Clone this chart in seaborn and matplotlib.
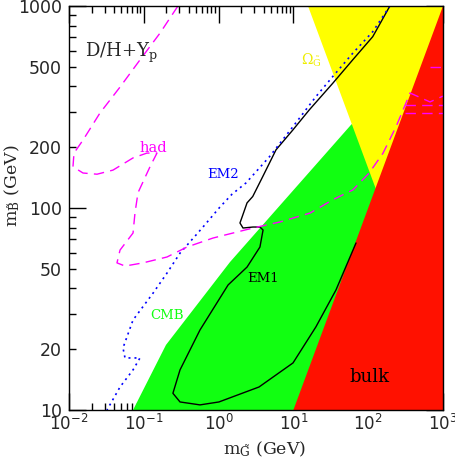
import numpy as np
import pandas as pd
import matplotlib
matplotlib.use("Agg")
import matplotlib.pyplot as plt
import seaborn as sns
from matplotlib.ticker import FixedLocator, FixedFormatter, NullFormatter

# ---------------- data ----------------
# EM1 contour (solid black)
em1_x = [195, 115, 62, 33.5, 16.3, 9.8, 5.85, 3.89, 2.86, 2.40, 2.06, 1.93, 2.12, 2.88,
         3.57, 3.93, 3.57, 2.40, 1.34, 0.564, 0.305, 0.245, 0.305, 0.564, 1.01, 3.47,
         9.88, 20.0, 37.1, 68.7]
em1_y = [1000, 705, 541, 414, 306, 243, 194, 143, 114, 106, 90.2, 84.3, 79.6, 80.5,
         80.5, 77.8, 64.1, 51.0, 41.6, 24.9, 15.8, 12.1, 10.96, 10.6, 10.96, 13.0,
         17.1, 25.8, 39.3, 67.1]

# EM2 contour (dotted blue)
em2_x = [195, 115, 62, 33.5, 20.0, 9.8, 4.76, 2.32, 1.51, 1.04, 0.618, 0.499, 0.305,
         0.204, 0.133, 0.0718, 0.0527, 0.0561, 0.0889, 0.0718, 0.0481, 0.0322]
em2_y = [1000, 746, 583, 447, 356, 252, 179, 133, 117, 101, 80.5, 73.5, 59.8,
         47.6, 37.9, 27.9, 20.3, 18.1, 18.1, 15.8, 13.0, 10.0]

# hadronic D/H + Yp contour (dashed magenta)
had_x = [0.286, 0.165, 0.0889, 0.0481, 0.0259, 0.0154, 0.01166, 0.0113, 0.0154, 0.0237,
         0.0387, 0.0718, 0.110, 0.150, 0.121, 0.0836, 0.0762, 0.0718, 0.0481, 0.0438,
         0.0561, 0.0975, 0.204, 0.378, 0.841, 1.56, 2.88, 6.62, 16.7, 33.8, 62.7, 103,
         158, 235, 320, 362, 449, 670, 1000]
had_y = [1000, 735, 541, 397, 295, 217, 187, 160, 149, 147, 154, 177, 187, 187, 160,
         119, 94.4, 75.2, 61.9, 53.5, 51.6, 53.5, 57.2, 64.1, 71.0, 75.2, 79.6, 85.3,
         94.4, 110, 123, 149, 187, 252, 331, 371, 358, 335, 358]
# noisy horizontal pieces of the same contour near the right edge
had_seg_x0 = [310, 310, 670]
had_seg_x1 = [1000, 1000, 1000]
had_seg_y = [295, 324, 499]

# CMB excluded region (green) boundary
cmb_x = [0.0718, 0.198, 1.42, 60, 1000, 1000]
cmb_y = [10, 21.0, 54, 260, 260, 10]

# Omega_G overclosure boundary (yellow)
omega_x = [15.7, 1000, 1000]
omega_y = [1000, 1000, 15.7]

# bulk region (red) boundary
bulk_x = [10, 1000, 1000]
bulk_y = [10, 1000, 10]

# tick labels
xticks = [1e-2, 1e-1, 1e0, 1e1, 1e2, 1e3]
xticklabels = [r'$\mathsf{10^{-2}}$', r'$\mathsf{10^{-1}}$', r'$\mathsf{10^{0}}$',
               r'$\mathsf{10^{1}}$', r'$\mathsf{10^{2}}$', r'$\mathsf{10^{3}}$']
yticks = [10, 20, 50, 100, 200, 500, 1000]
yticklabels = ['10', '20', '50', '100', '200', '500', '1000']

# ---------------- style ----------------
sns.set_style("ticks")
plt.rcParams['font.family'] = ['DejaVu Sans']
plt.rcParams['mathtext.fontset'] = 'custom'
plt.rcParams['mathtext.rm'] = 'DejaVu Serif'
plt.rcParams['mathtext.it'] = 'DejaVu Serif:italic'
plt.rcParams['mathtext.sf'] = 'DejaVu Sans'

GREEN = '#11ff11'
YELLOW = '#ffff00'
RED = '#ff1100'
MAGENTA = '#ff00ff'
BLUE = '#0000ff'

fig = plt.figure(figsize=(4.56, 4.61), dpi=100)
ax = fig.add_axes([69 / 456, 51 / 461, 374 / 456, 404 / 461])
ax.set_xscale('log')
ax.set_yscale('log')
ax.set_xlim(1e-2, 1e3)
ax.set_ylim(10, 1000)
ax.set_facecolor('white')

# regions
ax.fill(cmb_x, cmb_y, color=GREEN, lw=0, zorder=1)
ax.fill(omega_x, omega_y, color=YELLOW, lw=0, zorder=2)
ax.fill(bulk_x, bulk_y, color=RED, lw=0, zorder=3)


def curve(xs, ys, color, lw, ls):
    sns.lineplot(x=xs, y=ys, sort=False, estimator=None, ax=ax, color=color,
                 lw=lw, zorder=5)
    line = ax.lines[-1]
    line.set_linestyle(ls)
    line.set_linewidth(lw)


curve(em1_x, em1_y, 'black', 1.0, '-')
curve(em2_x, em2_y, BLUE, 1.2, (0, (1.2, 2.4)))
curve(had_x, had_y, MAGENTA, 1.0, (0, (7.5, 4.5)))
for x0, x1, yv in zip(had_seg_x0, had_seg_x1, had_seg_y):
    curve([x0, x1], [yv, yv], MAGENTA, 1.0, (0, (7.5, 4.5)))

# annotations
serif = 'DejaVu Serif'
ax.text(0.0164, 585, r'D/H+Y$_{\mathrm{p}}$', fontsize=13, family=serif,
        ha='left', va='center', zorder=6)
ax.text(0.133, 198, 'had', fontsize=10.5, family=serif, color=MAGENTA,
        ha='center', va='center', zorder=6)
ax.text(1.15, 147, 'EM2', fontsize=9.5, family=serif, color=BLUE,
        ha='center', va='center', zorder=6)
ax.text(17.2, 541, r'$\Omega_{\tilde{\mathrm{G}}}$', fontsize=10, family=serif,
        color='#eeee00', ha='center', va='center', zorder=6)
ax.text(3.93, 44.6, 'EM1', fontsize=9.5, family=serif, color='black',
        ha='center', va='center', zorder=6)
ax.text(0.204, 29.5, 'CMB', fontsize=9.5, family=serif, color=GREEN,
        ha='center', va='center', zorder=6)
ax.text(103, 14.6, 'bulk', fontsize=13, family=serif, color='black',
        ha='center', va='center', zorder=6)

# axes labels
ax.set_xlabel(r'm$_{\tilde{\mathrm{G}}}$ (GeV)', fontsize=12.5, family=serif)
ax.set_ylabel(r'm$_{\tilde{\mathrm{B}}}$ (GeV)', fontsize=12.5, family=serif)
ax.xaxis.set_label_coords(0.524, -0.074)
ax.yaxis.set_label_coords(-0.126, 0.555)

# ticks
ax.xaxis.set_major_locator(FixedLocator(xticks))
ax.xaxis.set_major_formatter(FixedFormatter(xticklabels))
xminor = [m * d for d in xticks[:-1] for m in range(2, 10)]
ax.xaxis.set_minor_locator(FixedLocator(xminor))
ax.xaxis.set_minor_formatter(NullFormatter())

ax.yaxis.set_major_locator(FixedLocator(yticks))
ax.yaxis.set_major_formatter(FixedFormatter(yticklabels))
yminor = [m * d for d in [10, 100] for m in range(2, 10) if m * d not in yticks]
ax.yaxis.set_minor_locator(FixedLocator(yminor))
ax.yaxis.set_minor_formatter(NullFormatter())

ax.tick_params(which='both', direction='in', top=True, right=True, color='black',
               width=1.0)
ax.tick_params(which='major', length=12)
ax.tick_params(which='minor', length=5)
ax.tick_params(axis='x', which='major', labelsize=12, pad=3)
ax.tick_params(axis='y', which='major', labelsize=12.5, pad=5)

for t, v in zip(ax.yaxis.get_major_ticks(), yticks):
    if v not in (10, 100, 1000):
        t.tick1line.set_markersize(5)
        t.tick2line.set_markersize(5)

for s in ax.spines.values():
    s.set_linewidth(1.0)
    s.set_color('black')
    s.set_zorder(10)

fig.savefig('out.png', dpi=100)
